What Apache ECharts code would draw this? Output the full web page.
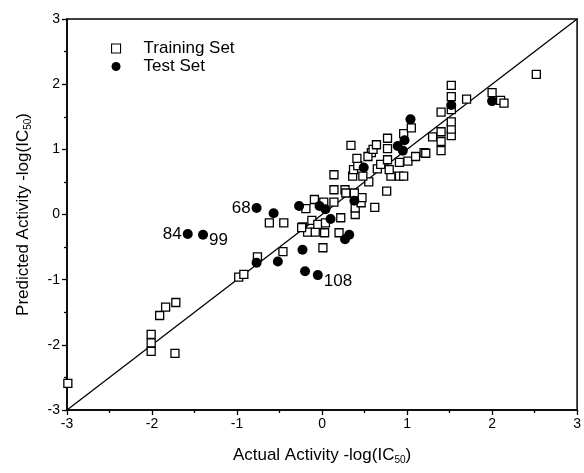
<!DOCTYPE html>
<html>
<head>
<meta charset="utf-8">
<script src="https://cdn.jsdelivr.net/npm/echarts@6/dist/echarts.min.js"></script>
<style>
  html, body { margin: 0; padding: 0; background: #fff; }
  #chart { width: 584px; height: 473px; }
</style>
</head>
<body>
<div id="chart"></div>
<script>
// training set: actual vs predicted -log(IC50)
const trainActual = [-2.99, -2.01, -2.01, -2.01, -1.91, -1.84, -1.72, -1.73, -0.98, -0.92,
  -0.76, -0.62, -0.45, -0.46, -0.19, -0.23, -0.17, -0.12, -0.08, -0.05,
  0.04, 0.03, 0.01, 0.20, 0.22, -0.09, 0.02, 0.14, 0.14, 0.27,
  0.14, 0.39, 0.39, 0.46, 0.62, 0.47, 0.38, 0.76, 0.28, 0.55,
  0.81, 0.91, 0.96, 0.36, 0.37, 0.42, 0.65, 0.69, 0.79, 0.34,
  0.58, 0.41, 0.54, 0.60, 0.64, 0.77, 0.77, 0.91, 1.01, 1.10,
  1.20, 0.96, 1.05, 1.22, 1.40, 1.40, 1.30, 1.40, 1.52, 1.52,
  1.52, 1.40, 1.52, 1.52, 1.52, 1.70, 2.00, 2.10, 2.14, 2.52,
  0.48, 0.77, -0.24];
const trainPred = [-2.59, -1.84, -1.97, -2.10, -1.55, -1.42, -1.35, -2.13, -0.96, -0.92,
  -0.65, -0.13, -0.13, -0.57, 0.09, -0.19, -0.27, -0.09, -0.27, -0.15,
  -0.13, -0.28, -0.51, -0.28, -0.05, 0.23, 0.19, 0.19, 0.38, 0.38,
  0.61, 0.00, 0.10, 0.18, 0.11, 0.26, 0.33, 0.36, 0.33, 0.50,
  0.59, 0.59, 0.59, 0.59, 0.69, 0.75, 0.70, 0.77, 0.69, 1.06,
  0.95, 0.86, 0.89, 1.00, 1.07, 1.01, 1.17, 0.80, 0.82, 0.89,
  0.95, 1.24, 1.33, 0.94, 0.98, 1.12, 1.19, 1.27, 1.21, 1.31,
  1.42, 1.57, 1.61, 1.81, 1.98, 1.77, 1.87, 1.75, 1.71, 2.15,
  0.59, 0.84, -0.20];

// test set
const testActual = [-1.58, -1.40, -0.77, -0.57, -0.27, -0.77, -0.52, -0.23, -0.20, -0.05,
  0.27, 0.32, -0.03, 0.04, 0.10, 0.38, 0.49, 0.89, 0.95, 0.97,
  1.04, 1.52, 2.00];
const testPred = [-0.30, -0.31, 0.10, 0.02, 0.13, -0.74, -0.72, -0.54, -0.87, -0.93,
  -0.38, -0.31, 0.13, 0.08, -0.07, 0.21, 0.72, 1.05, 0.98, 1.14,
  1.46, 1.68, 1.74];
const testIds = ['84', '99', '68', '', '', '', '', '', '', '108',
  '', '', '', '', '', '', '', '', '', '',
  '', '', ''];
const testLabelPos = { '84': 'left', '99': 'right', '68': 'left', '108': 'right' };

const unityLine = [-3, 3];
const axisTicks = [-3, -2, -1, 0, 1, 2, 3];

const font = 'Arial, "Liberation Sans", Helvetica, sans-serif';

const trainData = trainActual.map((x, i) => [x, trainPred[i]]);
const testData = testActual.map((x, i) => {
  const id = testIds[i];
  if (!id) return [x, testPred[i]];
  const pos = testLabelPos[id];
  return {
    value: [x, testPred[i]],
    label: {
      show: true,
      formatter: id,
      position: pos,
      distance: 1,
      offset: pos === 'right' ? [0, 6] : [0, 0],
      color: '#000',
      fontSize: 17,
      fontFamily: font
    }
  };
});

const chart = echarts.init(document.getElementById('chart'));

const nameRich = {
  a: { fontSize: 17, fontFamily: font, color: '#000' },
  s: { fontSize: 10, fontFamily: font, color: '#000', padding: [9, 0, 0, 0] }
};

const makeAxis = (name, gap) => ({
  type: 'value',
  min: axisTicks[0],
  max: axisTicks[axisTicks.length - 1],
  interval: 1,
  name: name,
  nameLocation: 'middle',
  nameGap: gap,
  nameTextStyle: { rich: nameRich },
  axisLine: { show: true, onZero: false, lineStyle: { color: '#000', width: 1.5 } },
  axisTick: { show: true, inside: false, length: 5, lineStyle: { color: '#000', width: 1.3 } },
  minorTick: { show: true, splitNumber: 2, length: 3, lineStyle: { color: '#000', width: 1.3 } },
  splitLine: { show: false },
  axisLabel: { color: '#000', fontSize: 14, fontFamily: font, margin: 7 }
});

const option = {
  animation: false,
  backgroundColor: '#fff',
  grid: {
    left: 67, right: 4, top: 19, bottom: 63,
    show: true, borderColor: '#000', borderWidth: 1.5, backgroundColor: 'transparent'
  },
  legend: {
    orient: 'vertical',
    left: 106,
    top: 35,
    itemWidth: 9,
    itemHeight: 9,
    itemGap: 1,
    textStyle: { color: '#000', fontSize: 17, fontFamily: font, padding: [0, 0, 0, 18] },
    data: [
      { name: 'Training Set', itemStyle: { borderWidth: 1.1 } },
      { name: 'Test Set' }
    ]
  },
  xAxis: makeAxis('{a|Actual Activity -log(IC}{s|50}{a|)}', 36),
  yAxis: makeAxis('{a|Predicted Activity -log(IC}{s|50}{a|)}', 34),
  series: [
    {
      type: 'line',
      data: [[unityLine[0], unityLine[0]], [unityLine[1], unityLine[1]]],
      showSymbol: false,
      silent: true,
      lineStyle: { color: '#000', width: 1.3 },
      z: 1
    },
    {
      name: 'Training Set',
      type: 'scatter',
      symbol: 'rect',
      symbolSize: 8,
      data: trainData,
      itemStyle: { color: '#fff', borderColor: '#000', borderWidth: 1.3, opacity: 1 },
      z: 2
    },
    {
      name: 'Test Set',
      type: 'scatter',
      symbol: 'circle',
      symbolSize: 10,
      data: testData,
      itemStyle: { color: '#000', opacity: 1 },
      z: 3
    }
  ]
};

chart.setOption(option);
window.addEventListener('resize', () => chart.resize());
</script>
</body>
</html>
